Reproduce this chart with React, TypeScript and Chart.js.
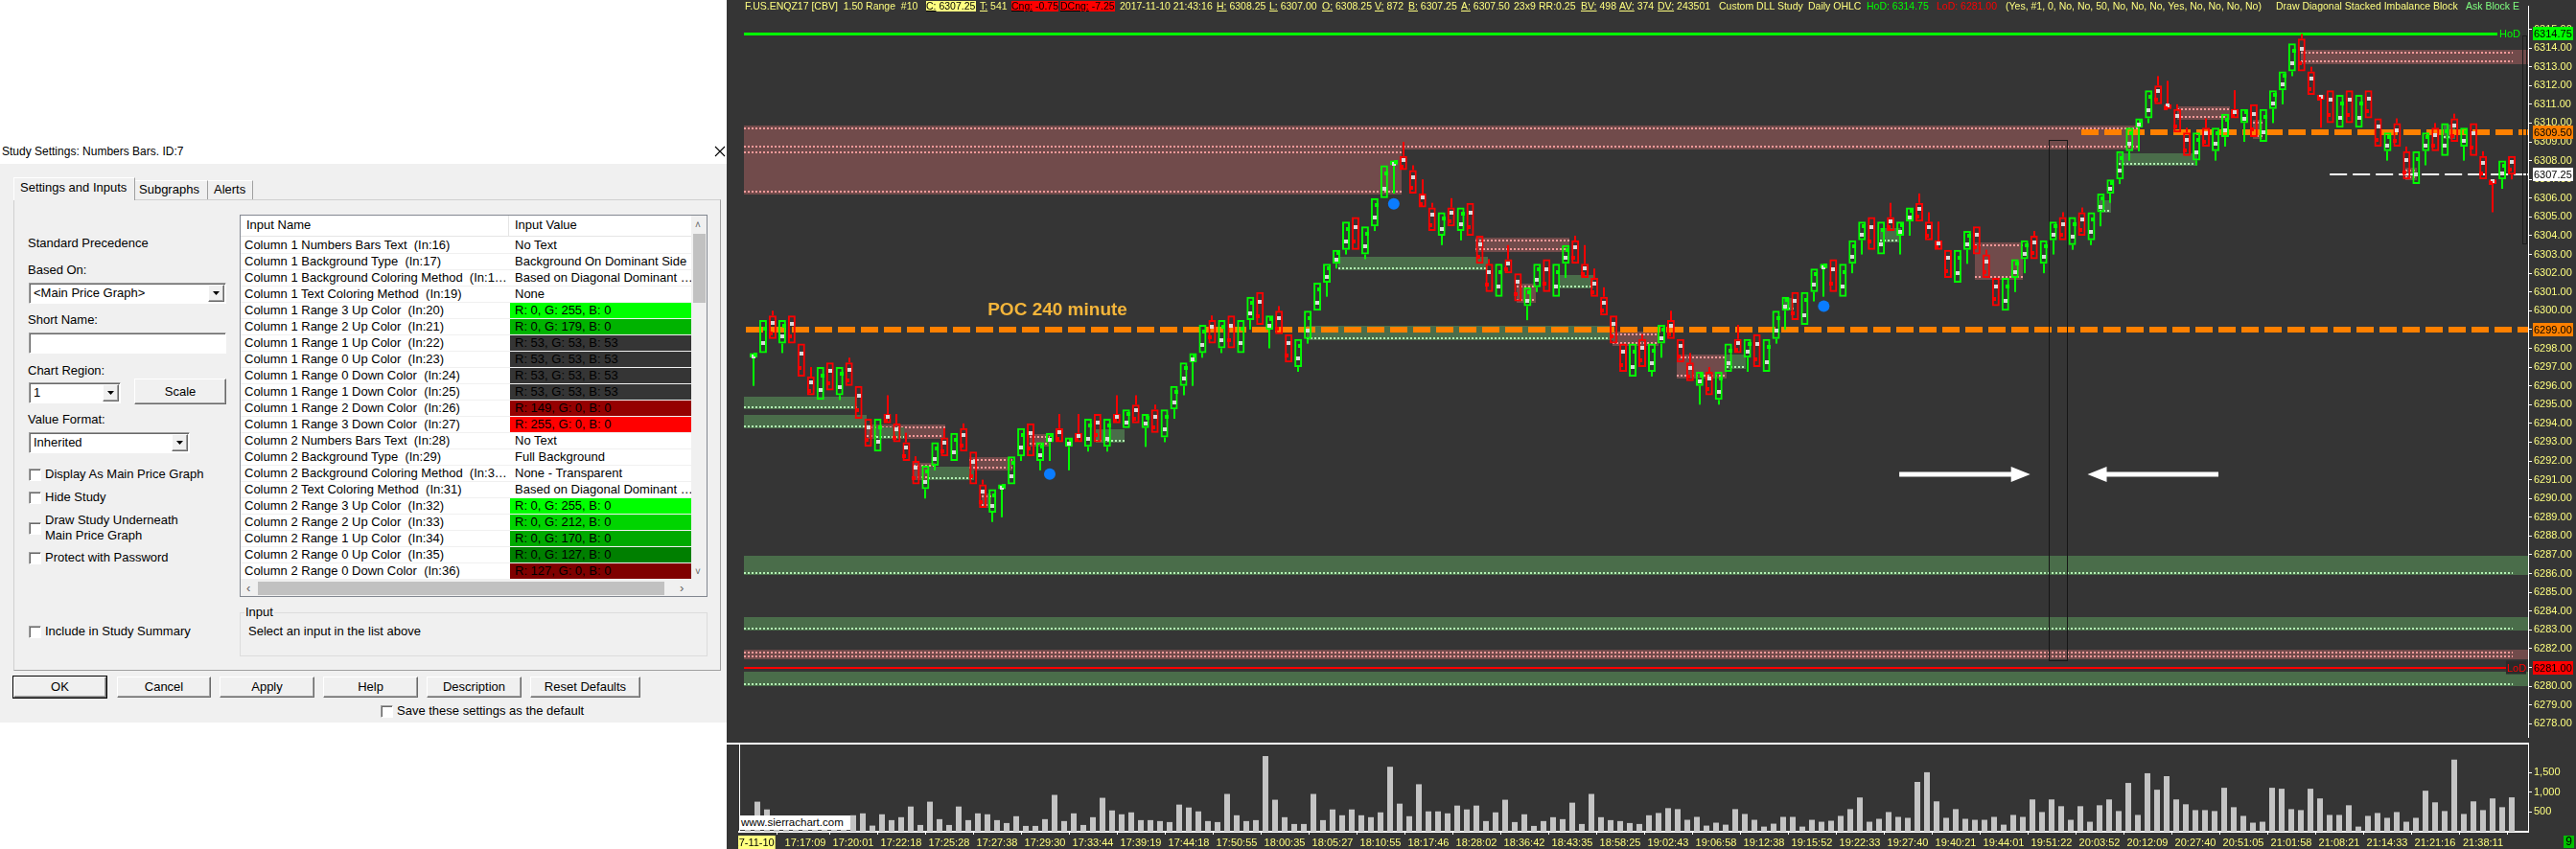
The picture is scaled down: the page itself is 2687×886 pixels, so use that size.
import { Fragment, useEffect, useRef } from "react";
import type { CSSProperties, ReactNode } from "react";
import { Chart, registerables } from "chart.js";

Chart.register(...registerables);

const UI_FONT = "'Liberation Sans', Arial, sans-serif";
const AXIS_SIZE = 11;
const YELLOW = "#ffff80";
const UP = "#00ff00";
const DOWN = "#ff0000";
const ORANGE = "#ff8000";
const CHART_BG = "#353535";

// 1.50 range bars, 2017-11-10
const opens = [
  6297.5, 6297.75, 6299.75, 6298.25, 6299.75, 6298.25, 6296.5, 6295.25, 6297.25, 6295.5,
  6297.25, 6296.0, 6294.25, 6292.5, 6294.5, 6294.0, 6293.0, 6292.0, 6290.5, 6291.75,
  6293.25, 6292.0, 6293.75, 6292.5, 6290.75, 6289.25, 6290.5, 6290.75, 6292.25, 6294.0,
  6292.0, 6293.0, 6293.75, 6292.75, 6293.5, 6292.75, 6294.5, 6292.75, 6294.5, 6293.75,
  6295.0, 6293.75, 6294.75, 6293.25, 6294.75, 6296.0, 6297.25, 6297.75, 6299.5, 6298.0,
  6299.75, 6297.75, 6299.5, 6301.0, 6299.0, 6300.0, 6298.75, 6297.0, 6298.5, 6300.0,
  6301.5, 6302.5, 6303.25, 6305.0, 6303.0, 6304.5, 6306.0, 6307.75, 6308.25, 6307.5,
  6306.25, 6305.5, 6304.0, 6305.5, 6304.25, 6305.75, 6304.0, 6302.5, 6300.75, 6302.75,
  6302.0, 6300.25, 6301.25, 6302.75, 6300.75, 6302.5, 6303.75, 6302.5, 6301.75, 6300.75,
  6299.75, 6298.25, 6296.5, 6298.5, 6296.75, 6298.25, 6299.5, 6298.5, 6297.25, 6296.0,
  6296.75, 6295.25, 6296.75, 6298.5, 6297.5, 6298.75, 6296.75, 6298.5, 6300.0, 6301.0,
  6299.25, 6301.0, 6302.25, 6302.75, 6300.75, 6302.5, 6303.75, 6305.0, 6303.0, 6305.0,
  6304.0, 6304.75, 6305.75, 6304.75, 6303.75, 6303.25, 6301.5, 6303.25, 6304.5, 6303.0,
  6301.75, 6300.0, 6301.75, 6302.75, 6304.0, 6302.5, 6303.75, 6305.0, 6303.5, 6305.25,
  6303.75, 6305.25, 6306.25, 6307.0, 6308.5, 6309.75, 6310.25, 6312.0, 6311.0, 6310.75,
  6309.5, 6308.0, 6309.75, 6308.5, 6309.25, 6310.75, 6310.0, 6311.0, 6309.0, 6310.75,
  6311.75, 6312.75, 6314.5, 6312.75, 6311.5, 6311.75, 6309.75, 6311.75, 6309.75, 6311.75,
  6310.25, 6308.5, 6310.0, 6308.5, 6306.75, 6308.5, 6309.75, 6308.25, 6310.25, 6308.75,
  6310.0, 6308.25, 6307.0, 6307.0, 6308.25,
];
const highs = [
  6297.75, 6299.5, 6300.0, 6299.5, 6299.75, 6298.25, 6297.0, 6297.0, 6297.25, 6297.0,
  6297.5, 6296.0, 6294.25, 6294.25, 6295.5, 6294.5, 6293.5, 6292.25, 6291.75, 6293.0,
  6293.75, 6293.5, 6294.0, 6292.5, 6291.0, 6290.5, 6290.75, 6292.25, 6293.75, 6294.0,
  6293.0, 6293.5, 6294.5, 6293.25, 6294.5, 6294.25, 6294.5, 6294.25, 6295.5, 6294.75,
  6295.5, 6294.5, 6295.0, 6294.75, 6296.0, 6297.25, 6297.75, 6299.25, 6299.75, 6299.5,
  6299.75, 6299.5, 6300.75, 6301.0, 6299.75, 6300.25, 6298.75, 6298.5, 6300.0, 6301.5,
  6302.5, 6303.25, 6304.75, 6305.0, 6304.5, 6306.0, 6307.75, 6308.0, 6309.0, 6307.75,
  6307.0, 6305.75, 6305.25, 6306.0, 6305.5, 6305.75, 6304.0, 6302.75, 6302.5, 6303.5,
  6302.0, 6301.25, 6302.5, 6302.75, 6302.5, 6303.5, 6304.0, 6303.5, 6302.25, 6301.25,
  6299.75, 6298.25, 6298.25, 6298.75, 6298.25, 6299.25, 6300.0, 6298.5, 6297.75, 6296.75,
  6297.0, 6296.75, 6298.25, 6299.25, 6298.5, 6298.75, 6298.5, 6300.0, 6300.75, 6301.0,
  6301.0, 6302.25, 6302.5, 6302.75, 6302.5, 6303.75, 6304.75, 6305.0, 6304.75, 6305.75,
  6304.75, 6305.5, 6306.25, 6305.25, 6304.75, 6303.25, 6303.25, 6304.25, 6304.5, 6303.25,
  6301.75, 6301.75, 6302.75, 6303.75, 6304.25, 6303.75, 6304.75, 6305.25, 6305.0, 6305.5,
  6305.25, 6306.25, 6307.0, 6308.5, 6309.75, 6310.25, 6311.75, 6312.5, 6312.25, 6311.0,
  6309.75, 6309.5, 6310.25, 6309.75, 6310.5, 6311.75, 6310.75, 6311.0, 6310.75, 6311.75,
  6312.75, 6314.25, 6314.75, 6313.0, 6311.5, 6311.75, 6311.5, 6311.75, 6311.5, 6311.75,
  6310.25, 6309.5, 6310.25, 6308.75, 6308.5, 6309.5, 6310.0, 6310.0, 6310.5, 6309.75,
  6310.0, 6308.5, 6307.0, 6308.0, 6308.25,
];
const lows = [
  6296.0, 6297.75, 6298.5, 6297.75, 6298.25, 6296.5, 6295.5, 6295.25, 6295.75, 6295.25,
  6296.0, 6294.25, 6292.75, 6292.5, 6294.0, 6293.0, 6292.0, 6290.75, 6290.0, 6291.5,
  6292.25, 6292.0, 6292.5, 6290.75, 6289.5, 6288.75, 6289.0, 6290.75, 6292.0, 6292.25,
  6291.5, 6292.0, 6293.0, 6291.5, 6293.0, 6292.5, 6293.0, 6292.5, 6294.0, 6293.75,
  6294.0, 6292.75, 6293.5, 6293.0, 6294.25, 6295.5, 6296.0, 6297.5, 6298.25, 6297.75,
  6298.0, 6297.75, 6299.0, 6299.25, 6298.0, 6298.75, 6297.25, 6296.75, 6298.25, 6300.0,
  6300.75, 6302.25, 6303.0, 6303.25, 6302.75, 6304.25, 6306.0, 6306.25, 6307.5, 6306.25,
  6305.5, 6304.25, 6303.5, 6304.5, 6303.75, 6304.0, 6302.5, 6301.0, 6300.75, 6302.0,
  6300.5, 6299.5, 6301.0, 6301.0, 6300.75, 6301.75, 6302.5, 6301.75, 6300.75, 6299.75,
  6298.25, 6296.75, 6296.5, 6297.0, 6296.5, 6297.5, 6298.5, 6297.25, 6296.25, 6295.0,
  6295.5, 6295.0, 6296.75, 6297.75, 6296.75, 6297.0, 6296.75, 6298.25, 6299.0, 6299.5,
  6299.25, 6300.5, 6300.75, 6301.0, 6300.75, 6302.0, 6303.0, 6303.25, 6303.0, 6304.25,
  6303.0, 6304.0, 6304.75, 6303.75, 6303.25, 6301.75, 6301.5, 6302.5, 6303.0, 6301.75,
  6300.25, 6300.0, 6301.0, 6302.0, 6302.75, 6302.0, 6303.0, 6303.75, 6303.25, 6304.0,
  6303.5, 6304.5, 6305.75, 6306.75, 6308.0, 6308.5, 6310.0, 6311.0, 6310.75, 6309.5,
  6308.25, 6307.75, 6308.75, 6308.0, 6308.75, 6310.25, 6309.0, 6309.25, 6309.0, 6310.0,
  6311.0, 6312.5, 6312.75, 6311.5, 6309.75, 6310.0, 6309.75, 6310.0, 6309.75, 6310.25,
  6308.75, 6308.0, 6308.75, 6307.0, 6306.75, 6307.75, 6308.5, 6308.25, 6309.0, 6308.0,
  6308.25, 6307.0, 6305.25, 6306.5, 6307.0,
];
const closes = [
  6297.75, 6299.5, 6298.5, 6299.5, 6298.25, 6296.5, 6295.5, 6297.0, 6295.75, 6297.0,
  6296.0, 6294.25, 6292.75, 6294.25, 6294.0, 6293.0, 6292.0, 6290.75, 6291.75, 6293.0,
  6292.25, 6293.5, 6292.5, 6290.75, 6289.5, 6290.5, 6290.75, 6292.25, 6293.75, 6292.25,
  6293.0, 6293.5, 6293.0, 6293.25, 6293.0, 6294.25, 6293.0, 6294.25, 6294.0, 6294.75,
  6294.0, 6294.5, 6293.5, 6294.75, 6296.0, 6297.25, 6297.75, 6299.25, 6298.25, 6299.5,
  6298.0, 6299.5, 6300.75, 6299.25, 6299.75, 6298.75, 6297.25, 6298.5, 6300.0, 6301.5,
  6302.5, 6303.25, 6304.75, 6303.25, 6304.5, 6306.0, 6307.75, 6308.0, 6307.5, 6306.25,
  6305.5, 6304.25, 6305.25, 6304.5, 6305.5, 6304.0, 6302.5, 6301.0, 6302.5, 6302.0,
  6300.5, 6301.25, 6302.5, 6301.0, 6302.5, 6303.5, 6302.5, 6301.75, 6300.75, 6299.75,
  6298.25, 6296.75, 6298.25, 6297.0, 6298.25, 6299.25, 6298.5, 6297.25, 6296.25, 6296.75,
  6295.5, 6296.75, 6298.25, 6297.75, 6298.5, 6297.0, 6298.5, 6300.0, 6300.75, 6299.5,
  6301.0, 6302.25, 6302.5, 6301.0, 6302.5, 6303.75, 6304.75, 6303.25, 6304.75, 6304.25,
  6304.75, 6305.5, 6304.75, 6303.75, 6303.25, 6301.75, 6303.25, 6304.25, 6303.0, 6301.75,
  6300.25, 6301.75, 6302.75, 6303.75, 6302.75, 6303.75, 6304.75, 6303.75, 6305.0, 6304.0,
  6305.25, 6306.25, 6307.0, 6308.5, 6309.75, 6310.25, 6311.75, 6311.0, 6310.75, 6309.5,
  6308.25, 6309.5, 6308.75, 6309.75, 6310.5, 6310.25, 6310.75, 6309.25, 6310.75, 6311.75,
  6312.75, 6314.25, 6312.75, 6311.5, 6311.25, 6310.0, 6311.5, 6310.0, 6311.5, 6310.25,
  6308.75, 6309.5, 6308.75, 6307.0, 6308.5, 6309.5, 6308.5, 6310.0, 6309.0, 6309.75,
  6308.25, 6307.0, 6306.75, 6308.0, 6307.25,
];
const volumes = [
  300, 763, 566, 250, 180, 320, 210, 290, 150, 340,
  230, 418, 467, 156, 443, 295, 369, 640, 172, 763,
  320, 172, 640, 295, 467, 443, 295, 221, 394, 148,
  148, 320, 935, 271, 467, 172, 369, 861, 541, 443,
  492, 295, 295, 271, 246, 689, 615, 517, 271, 246,
  959, 418, 271, 295, 1919, 812, 369, 197, 197, 959,
  295, 566, 418, 566, 418, 369, 492, 1648, 713, 394,
  1205, 517, 517, 467, 664, 566, 664, 271, 492, 812,
  246, 443, 148, 271, 369, 320, 738, 197, 959, 369,
  295, 271, 221, 197, 418, 476, 599, 574, 303, 377,
  156, 230, 180, 574, 451, 303, 131, 205, 377, 377,
  131, 303, 254, 279, 402, 574, 869, 254, 328, 500,
  377, 353, 1263, 1509, 771, 353, 574, 328, 303, 303,
  377, 180, 426, 377, 820, 500, 820, 648, 303, 648,
  254, 672, 820, 525, 1238, 426, 1484, 1066, 1410, 820,
  697, 549, 549, 525, 1115, 623, 402, 230, 254, 1115,
  1091, 574, 549, 1091, 845, 426, 426, 672, 131, 402,
  476, 353, 500, 254, 353, 1041, 746, 525, 1829, 451,
  771, 549, 845, 623, 872,
];

const timeLabels = [
  "2017-11-10", "17:17:09", "17:20:01", "17:22:18", "17:25:28", "17:27:38", "17:29:30", "17:33:44",
  "17:39:19", "17:44:18", "17:50:55", "18:00:35", "18:05:27", "18:10:55", "18:17:46", "18:28:02",
  "18:36:42", "18:43:35", "18:58:25", "19:02:43", "19:06:58", "19:12:38", "19:15:52", "19:22:33",
  "19:27:40", "19:40:21", "19:44:01", "19:51:22", "20:03:52", "20:12:09", "20:27:40", "20:51:05",
  "21:01:58", "21:08:21", "21:14:33", "21:21:16", "21:38:11",
];
const labelBars = [
  0, 6, 11, 16, 21, 26, 31, 36, 41, 46, 51, 56, 61, 66, 71, 76, 81, 86, 91,
  96, 101, 106, 111, 116, 121, 126, 131, 136, 141, 146, 151, 156, 161, 166, 171, 176, 181,
];
const priceTickRange = [6278, 6315];
const volumeTicks = [500, 1000, 1500];

// stacked imbalance zones: [from bar, to bar, low, high, side]
const zones: [number, number, number, number, string][] = [
  [-1, 144.85, 6308.6, 6309.85, "sell"],
  [-1, 67.85, 6306.2, 6308.6, "sell"],
  [-1, 10.85, 6294.75, 6295.4, "buy"],
  [-1, 11.85, 6293.75, 6294.45, "buy"],
  [11.85, 20.05, 6293.2, 6293.95, "sell"],
  [12.85, 15.75, 6293.2, 6293.8, "buy"],
  [16.75, 19.05, 6291.0, 6291.9, "sell"],
  [18.25, 23.05, 6291.0, 6291.7, "buy"],
  [22.55, 27.05, 6291.5, 6292.2, "sell"],
  [23.85, 24.85, 6289.5, 6290.25, "sell"],
  [28.85, 31.05, 6292.75, 6293.45, "sell"],
  [35.85, 38.85, 6292.95, 6293.7, "buy"],
  [57.85, 90.05, 6298.45, 6299.2, "buy"],
  [61.25, 76.85, 6302.15, 6302.9, "buy"],
  [75.55, 85.35, 6303.15, 6303.9, "sell"],
  [79.85, 81.85, 6300.45, 6301.45, "sell"],
  [84.25, 87.85, 6301.2, 6301.9, "buy"],
  [89.85, 94.75, 6298.15, 6298.9, "sell"],
  [96.6, 101.85, 6296.4, 6297.65, "sell"],
  [101.85, 103.85, 6296.9, 6297.65, "buy"],
  [107.85, 108.85, 6300.0, 6300.7, "buy"],
  [117.85, 120.05, 6303.65, 6304.4, "buy"],
  [127.85, 132.85, 6301.65, 6303.65, "sell"],
  [140.85, 142.05, 6305.2, 6305.9, "buy"],
  [142.85, 151.05, 6307.7, 6308.4, "buy"],
  [148.95, 154.45, 6310.15, 6310.9, "sell"],
  [156.95, 157.95, 6309.15, 6310.15, "sell"],
  [161.95, 187, 6313.15, 6313.9, "sell"],
  [172.85, 174.05, 6306.95, 6307.6, "sell"],
  [176.85, 178.05, 6309.15, 6309.9, "buy"],
  [-1, 187, 6285.95, 6286.95, "buy"],
  [-1, 187, 6282.95, 6283.7, "buy"],
  [-1, 187, 6281.45, 6281.95, "sell"],
  [-1, 187, 6280.0, 6280.75, "buy"],
];

const poc240 = 6299.0;
const pocDaily = 6309.5;
const pocDailyFrom = 138.95;
const lastPrice = 6307.25;
const lastPriceFrom = 164.95;
const highOfDay = 6314.75;
const lowOfDay = 6281.0;
const signalDots = [
  { x: 31, y: 6291.3 },
  { x: 67, y: 6305.7 },
  { x: 112, y: 6300.25 },
];
const arrows: [number, number, number][] = [
  [119.9, 133.6, 6291.3],
  [153.3, 139.6, 6291.3],
];
const markedRange = [135.5, 137.4, 6281.4, 6309.1];
const pocLabelAt = [24.5, 6300.05];

const inputNames = [
  "Column 1 Numbers Bars Text  (In:16)",
  "Column 1 Background Type  (In:17)",
  "Column 1 Background Coloring Method  (In:1\u2026",
  "Column 1 Text Coloring Method  (In:19)",
  "Column 1 Range 3 Up Color  (In:20)",
  "Column 1 Range 2 Up Color  (In:21)",
  "Column 1 Range 1 Up Color  (In:22)",
  "Column 1 Range 0 Up Color  (In:23)",
  "Column 1 Range 0 Down Color  (In:24)",
  "Column 1 Range 1 Down Color  (In:25)",
  "Column 1 Range 2 Down Color  (In:26)",
  "Column 1 Range 3 Down Color  (In:27)",
  "Column 2 Numbers Bars Text  (In:28)",
  "Column 2 Background Type  (In:29)",
  "Column 2 Background Coloring Method  (In:3\u2026",
  "Column 2 Text Coloring Method  (In:31)",
  "Column 2 Range 3 Up Color  (In:32)",
  "Column 2 Range 2 Up Color  (In:33)",
  "Column 2 Range 1 Up Color  (In:34)",
  "Column 2 Range 0 Up Color  (In:35)",
  "Column 2 Range 0 Down Color  (In:36)",
];
const inputValues = [
  "No Text", "Background On Dominant Side", "Based on Diagonal Dominant \u2026", "None",
  "R: 0, G: 255, B: 0", "R: 0, G: 179, B: 0", "R: 53, G: 53, B: 53", "R: 53, G: 53, B: 53",
  "R: 53, G: 53, B: 53", "R: 53, G: 53, B: 53", "R: 149, G: 0, B: 0", "R: 255, G: 0, B: 0",
  "No Text", "Full Background", "None - Transparent", "Based on Diagonal Dominant \u2026",
  "R: 0, G: 255, B: 0", "R: 0, G: 212, B: 0", "R: 0, G: 170, B: 0", "R: 0, G: 127, B: 0",
  "R: 127, G: 0, B: 0",
];

const footprint = {
  id: "footprint",
  beforeDatasetsDraw(chart: any) {
    const { ctx, chartArea: a } = chart;
    const x = chart.scales.x;
    const y = chart.scales.y;
    const lastX = x.getPixelForValue(opens.length - 1) + 1;
    ctx.save();
    ctx.beginPath();
    ctx.rect(a.left, a.top, a.right - a.left, a.bottom - a.top);
    ctx.clip();

    for (const [from, to, lo, hi, side] of zones) {
      const x0 = Math.max(a.left, Math.round(x.getPixelForValue(from)));
      const x1 = Math.min(a.right, Math.round(x.getPixelForValue(to)));
      const y0 = Math.round(y.getPixelForValue(hi));
      const y1 = Math.round(y.getPixelForValue(lo));
      const buy = side === "buy";
      ctx.fillStyle = buy ? "#4a6d4a" : "#714b4b";
      ctx.fillRect(x0, y0, x1 - x0, y1 - y0);
      ctx.strokeStyle = buy ? "#b4f0b4" : "#f59a9a";
      ctx.lineWidth = 2;
      ctx.setLineDash([2, 2]);
      const xe = Math.min(x1, lastX);
      const rows = buy ? [y1 - 2] : [y0 + 3, y1 - 3];
      for (const ry of rows) {
        ctx.beginPath();
        ctx.moveTo(x0, ry);
        ctx.lineTo(xe, ry);
        ctx.stroke();
      }
    }

    const dashed = (from: number, level: number, color: string, width: number) => {
      const yy = Math.round(y.getPixelForValue(level));
      ctx.strokeStyle = color;
      ctx.lineWidth = width;
      ctx.setLineDash([18, 6]);
      ctx.beginPath();
      ctx.moveTo(Math.max(a.left + 2, x.getPixelForValue(from)), yy);
      ctx.lineTo(a.right, yy);
      ctx.stroke();
    };
    dashed(-1, poc240, ORANGE, 6);
    dashed(pocDailyFrom, pocDaily, ORANGE, 6);
    dashed(lastPriceFrom, lastPrice, "#ffffff", 2);
    ctx.setLineDash([]);

    const yH = Math.round(y.getPixelForValue(highOfDay));
    ctx.fillStyle = UP;
    ctx.fillRect(a.left, yH - 1, a.right - a.left - 32, 3);
    const yL = Math.round(y.getPixelForValue(lowOfDay));
    ctx.fillStyle = DOWN;
    ctx.fillRect(a.left, yL - 1, a.right - a.left - 23, 2);

    const [r0, r1, rLo, rHi] = markedRange;
    ctx.strokeStyle = "#161616";
    ctx.lineWidth = 1;
    const rx0 = Math.round(x.getPixelForValue(r0)) + 0.5;
    const rx1 = Math.round(x.getPixelForValue(r1)) + 0.5;
    const ry0 = Math.round(y.getPixelForValue(rHi)) + 0.5;
    const ry1 = Math.round(y.getPixelForValue(rLo)) + 0.5;
    ctx.strokeRect(rx0, ry0, rx1 - rx0, ry1 - ry0);

    opens.forEach((o, i) => {
      const c = closes[i];
      const xc = Math.round(x.getPixelForValue(i));
      const top = y.getPixelForValue(Math.max(o, c));
      const bot = y.getPixelForValue(Math.min(o, c));
      const yh = y.getPixelForValue(highs[i]);
      const yl = y.getPixelForValue(lows[i]);
      ctx.fillStyle = c >= o ? UP : DOWN;
      if (yh < top) ctx.fillRect(xc - 1, yh, 2, top - yh);
      if (yl > bot) ctx.fillRect(xc - 1, bot, 2, yl - bot);
    });
    ctx.restore();
  },
  afterDatasetsDraw(chart: any) {
    const { ctx, chartArea: a } = chart;
    const x = chart.scales.x;
    const y = chart.scales.y;
    ctx.save();
    opens.forEach((o, i) => {
      const c = closes[i];
      const up = c >= o;
      const xc = Math.round(x.getPixelForValue(i));
      const yp = Math.round(y.getPixelForValue(o + (c - o) * 0.3));
      ctx.fillStyle = "#d9d9d9";
      ctx.fillRect(xc - 2, yp - 2, 4, 4);
      const yi = Math.round(y.getPixelForValue(o + (c - o) * 0.75));
      ctx.fillStyle = up ? UP : DOWN;
      ctx.fillRect(up ? xc : xc - 4, yi - 2, 4, 4);
    });

    ctx.fillStyle = "#ffffff";
    ctx.strokeStyle = "#ffffff";
    for (const [from, to, level] of arrows) {
      const x0 = x.getPixelForValue(from);
      const x1 = x.getPixelForValue(to);
      const yy = Math.round(y.getPixelForValue(level));
      const dir = Math.sign(x1 - x0);
      ctx.lineWidth = 5;
      ctx.beginPath();
      ctx.moveTo(x0, yy);
      ctx.lineTo(x1 - dir * 14, yy);
      ctx.stroke();
      ctx.beginPath();
      ctx.moveTo(x1, yy);
      ctx.lineTo(x1 - dir * 20, yy - 8);
      ctx.lineTo(x1 - dir * 20, yy + 8);
      ctx.closePath();
      ctx.fill();
    }

    ctx.font = "bold 19px 'Liberation Sans', Arial, sans-serif";
    ctx.fillStyle = "#f4b53a";
    ctx.textBaseline = "middle";
    ctx.textAlign = "left";
    ctx.fillText("POC 240 minute", x.getPixelForValue(pocLabelAt[0]), y.getPixelForValue(pocLabelAt[1]));

    ctx.font = `${AXIS_SIZE}px ${UI_FONT}`;
    ctx.fillStyle = UP;
    ctx.fillText("HoD", a.right - 30, y.getPixelForValue(highOfDay) + 1);
    const yL = y.getPixelForValue(lowOfDay);
    ctx.fillStyle = "#2a2a2a";
    ctx.fillRect(a.right - 23, yL - 7, 21, 14);
    ctx.fillStyle = DOWN;
    ctx.fillText("LoD", a.right - 22, yL + 1);
    ctx.restore();
  },
  afterDraw(chart: any) {
    const { ctx, chartArea: a } = chart;
    const y = chart.scales.y;
    const marks: [number, string][] = [
      [highOfDay, UP],
      [pocDaily, ORANGE],
      [lastPrice, "#ffffff"],
      [poc240, ORANGE],
      [lowOfDay, DOWN],
    ];
    ctx.save();
    ctx.font = `${AXIS_SIZE}px ${UI_FONT}`;
    ctx.textBaseline = "middle";
    ctx.textAlign = "left";
    for (const [level, bg] of marks) {
      const yy = Math.round(y.getPixelForValue(level));
      ctx.fillStyle = bg;
      ctx.fillRect(a.right + 5, yy - 7, 42, 14);
      ctx.fillStyle = "#000000";
      ctx.fillText(level.toFixed(2), a.right + 6, yy + 1);
    }
    ctx.restore();
  },
};

function Txt({ x, y, children, style }: { x: number; y: number; children: ReactNode; style?: CSSProperties }) {
  return (
    <div style={{ position: "absolute", left: x, top: y - 8, height: 16, lineHeight: "16px", whiteSpace: "pre", ...style }}>
      {children}
    </div>
  );
}

const raised: CSSProperties = {
  position: "absolute",
  boxSizing: "border-box",
  background: "#f0f0f0",
  borderTop: "1px solid #ffffff",
  borderLeft: "1px solid #ffffff",
  borderRight: "1px solid #696969",
  borderBottom: "1px solid #696969",
  boxShadow: "inset -1px -1px 0 #a0a0a0",
};
const sunken: CSSProperties = {
  position: "absolute",
  boxSizing: "border-box",
  background: "#ffffff",
  borderTop: "1px solid #a0a0a0",
  borderLeft: "1px solid #a0a0a0",
  borderRight: "1px solid #ffffff",
  borderBottom: "1px solid #ffffff",
  boxShadow: "inset 1px 1px 0 #696969",
};

function Combo({ x, y, w, text }: { x: number; y: number; w: number; text: string }) {
  return (
    <div style={{ ...sunken, left: x, top: y, width: w, height: 22 }}>
      <div style={{ position: "absolute", left: 4, top: 2, lineHeight: "16px", whiteSpace: "pre" }}>{text}</div>
      <div style={{ ...raised, right: 1, top: 1, width: 17, height: 18 }}>
        <svg width={15} height={16} style={{ position: "absolute", left: 0, top: 0 }}>
          <path d="M4 6 L11 6 L7.5 10 Z" fill="#000" />
        </svg>
      </div>
    </div>
  );
}

function Check({ x, y }: { x: number; y: number }) {
  return <div style={{ ...sunken, left: x, top: y - 6, width: 13, height: 13 }} />;
}

function Button({ x, y, w, h, label, main }: { x: number; y: number; w: number; h: number; label: string; main?: boolean }) {
  return (
    <div
      style={{
        ...raised,
        left: x,
        top: y,
        width: w,
        height: h,
        textAlign: "center",
        lineHeight: `${h - 2}px`,
        outline: main ? "1px solid #000" : undefined,
      }}
    >
      {label}
    </div>
  );
}

function Dialog() {
  return (
    <div style={{ position: "absolute", left: 0, top: 0, width: 758, height: 886, fontFamily: UI_FONT, fontSize: 13, color: "#000" }}>
      <div style={{ position: "absolute", left: 0, top: 171, width: 758, height: 583, background: "#f0f0f0" }} />
      <Txt x={2} y={158} style={{ fontSize: 12 }}>Study Settings: Numbers Bars. ID:7</Txt>
      <svg width={12} height={12} style={{ position: "absolute", left: 745, top: 152 }}>
        <path d="M1 1 L11 11 M11 1 L1 11" stroke="#000" strokeWidth={1.1} />
      </svg>

      <div style={{ position: "absolute", left: 14, top: 208, width: 738, height: 492, boxSizing: "border-box", border: "1px solid #d0d0d0", borderRightColor: "#a0a0a0", borderBottomColor: "#a0a0a0", background: "#f0f0f0" }} />
      <div style={{ position: "absolute", left: 14, top: 185, width: 127, height: 24, boxSizing: "border-box", borderTop: "1px solid #fff", borderLeft: "1px solid #fff", borderRight: "1px solid #a0a0a0", background: "#f0f0f0" }} />
      <Txt x={21} y={196}>Settings and Inputs</Txt>
      <div style={{ position: "absolute", left: 141, top: 188, width: 76, height: 20, boxSizing: "border-box", borderTop: "1px solid #fff", borderRight: "1px solid #a0a0a0" }} />
      <Txt x={145} y={198}>Subgraphs</Txt>
      <div style={{ position: "absolute", left: 217, top: 188, width: 47, height: 20, boxSizing: "border-box", borderTop: "1px solid #fff", borderRight: "1px solid #a0a0a0" }} />
      <Txt x={223} y={198}>Alerts</Txt>

      <Txt x={29} y={254}>Standard Precedence</Txt>
      <Txt x={29} y={282}>Based On:</Txt>
      <Combo x={30} y={295} w={206} text="<Main Price Graph>" />
      <Txt x={29} y={334}>Short Name:</Txt>
      <div style={{ ...sunken, left: 30, top: 347, width: 206, height: 22 }} />
      <Txt x={29} y={387}>Chart Region:</Txt>
      <Combo x={30} y={399} w={96} text="1" />
      <Button x={140} y={395} w={96} h={27} label="Scale" />
      <Txt x={29} y={438}>Value Format:</Txt>
      <Combo x={30} y={451} w={168} text="Inherited" />

      <Check x={30} y={495} />
      <Txt x={47} y={495}>Display As Main Price Graph</Txt>
      <Check x={30} y={519} />
      <Txt x={47} y={519}>Hide Study</Txt>
      <Check x={30} y={551} />
      <Txt x={47} y={543}>Draw Study Underneath</Txt>
      <Txt x={47} y={559}>Main Price Graph</Txt>
      <Check x={30} y={582} />
      <Txt x={47} y={582}>Protect with Password</Txt>
      <Check x={30} y={659} />
      <Txt x={47} y={659}>Include in Study Summary</Txt>

      <div style={{ position: "absolute", left: 250, top: 224, width: 488, height: 399, boxSizing: "border-box", border: "1px solid #828790", background: "#fff", overflow: "hidden" }}>
        <div style={{ position: "absolute", left: 0, top: 0, width: 470, height: 21, borderBottom: "1px solid #e5e5e5" }} />
        <div style={{ position: "absolute", left: 279, top: 0, width: 1, height: 21, background: "#e5e5e5" }} />
        <Txt x={6} y={10}>Input Name</Txt>
        <Txt x={286} y={10}>Input Value</Txt>
        {inputNames.map((name, i) => {
          const top = 23 + i * 17;
          const rgb = /R: (\d+), G: (\d+), B: (\d+)/.exec(inputValues[i]);
          return (
            <Fragment key={name}>
              <div style={{ position: "absolute", left: 0, top: top + 16, width: 470, height: 1, background: "#f0f0f0" }} />
              <div style={{ position: "absolute", left: 4, top, width: 273, height: 16, lineHeight: "16px", overflow: "hidden", whiteSpace: "pre" }}>{name}</div>
              <div
                style={{
                  position: "absolute",
                  left: 281,
                  top,
                  width: 189,
                  height: 16,
                  lineHeight: "16px",
                  paddingLeft: 5,
                  boxSizing: "border-box",
                  overflow: "hidden",
                  whiteSpace: "pre",
                  background: rgb ? `rgb(${rgb[1]},${rgb[2]},${rgb[3]})` : "transparent",
                }}
              >
                {inputValues[i]}
              </div>
            </Fragment>
          );
        })}
        <div style={{ position: "absolute", left: 470, top: 0, width: 17, height: 380, background: "#f0f0f0" }} />
        <div style={{ position: "absolute", left: 472, top: 19, width: 13, height: 72, background: "#c1c1c1" }} />
        <Txt x={474} y={10} style={{ fontSize: 10, color: "#606060" }}>{"\u02c4"}</Txt>
        <Txt x={474} y={372} style={{ fontSize: 10, color: "#606060" }}>{"\u02c5"}</Txt>
        <div style={{ position: "absolute", left: 0, top: 380, width: 487, height: 18, background: "#f0f0f0" }} />
        <div style={{ position: "absolute", left: 18, top: 382, width: 424, height: 14, background: "#c1c1c1" }} />
        <Txt x={6} y={389} style={{ color: "#606060" }}>{"\u2039"}</Txt>
        <Txt x={458} y={389} style={{ color: "#606060" }}>{"\u203a"}</Txt>
      </div>

      <div style={{ position: "absolute", left: 250, top: 639, width: 488, height: 46, boxSizing: "border-box", border: "1px solid #dcdcdc" }} />
      <Txt x={255} y={639} style={{ background: "#f0f0f0", padding: "0 1px" }}>Input</Txt>
      <Txt x={259} y={659}>Select an input in the list above</Txt>

      <Button x={14} y={706} w={97} h={22} label="OK" main />
      <Button x={122} y={706} w={98} h={22} label="Cancel" />
      <Button x={229} y={706} w={99} h={22} label="Apply" />
      <Button x={337} y={706} w={99} h={22} label="Help" />
      <Button x={445} y={706} w={99} h={22} label="Description" />
      <Button x={553} y={706} w={115} h={22} label="Reset Defaults" />
      <Check x={397} y={742} />
      <Txt x={414} y={742}>Save these settings as the default</Txt>
    </div>
  );
}

function Header() {
  const base: CSSProperties = {
    position: "absolute",
    top: 1,
    height: 11,
    lineHeight: "11px",
    fontFamily: UI_FONT,
    fontSize: 10.5,
    color: YELLOW,
    whiteSpace: "pre",
  };
  const at = (x: number, content: ReactNode, extra?: CSSProperties) => (
    <div style={{ ...base, left: x, ...extra }}>{content}</div>
  );
  return (
    <>
      {at(777, "F.US.ENQZ17 [CBV]  1.50 Range  #10")}
      {at(966, <><u>C:</u> 6307.25</>, { background: YELLOW, color: "#000", width: 52 })}
      {at(1022, <><u>T:</u> 541</>)}
      {at(1055, <><u>Cng:</u> -0.75</>, { background: DOWN, color: "#000", width: 49 })}
      {at(1106, <><u>DCng:</u> -7.25</>, { background: DOWN, color: "#000", width: 57 })}
      {at(1168, "2017-11-10 21:43:16")}
      {at(1269, <><u>H:</u> 6308.25</>)}
      {at(1324, <><u>L:</u> 6307.00</>)}
      {at(1379, <><u>O:</u> 6308.25</>)}
      {at(1434, <><u>V:</u> 872</>)}
      {at(1469, <><u>B:</u> 6307.25</>)}
      {at(1524, <><u>A:</u> 6307.50</>)}
      {at(1579, "23x9")}
      {at(1605, "RR:0.25")}
      {at(1649, <><u>BV:</u> 498</>)}
      {at(1689, <><u>AV:</u> 374</>)}
      {at(1729, <><u>DV:</u> 243501</>)}
      {at(1793, "Custom DLL Study")}
      {at(1886, "Daily OHLC")}
      {at(1947, "HoD: 6314.75", { color: UP })}
      {at(2020, "LoD: 6281.00", { color: DOWN })}
      {at(2092, "(Yes, #1, 0, No, No, 50, No, No, No, Yes, No, No, No, No)")}
      {at(2374, "Draw Diagonal Stacked Imbalance Block")}
      {at(2572, "Ask Block E", { color: "#80ff80", width: 62, overflow: "hidden" })}
    </>
  );
}

export default function App() {
  const priceRef = useRef<HTMLCanvasElement | null>(null);
  const volumeRef = useRef<HTMLCanvasElement | null>(null);

  useEffect(() => {
    const axisFont = { family: UI_FONT, size: AXIS_SIZE };

    const priceChart = priceRef.current
      ? new Chart(priceRef.current, {
          type: "bar",
          data: {
            datasets: [
              {
                type: "bar",
                label: "Range bars",
                data: opens.map((o, i) => ({ x: i, y: [o, closes[i]] })) as any,
                backgroundColor: "rgba(0,0,0,0)",
                borderColor: opens.map((o, i) => (closes[i] >= o ? UP : DOWN)),
                borderWidth: 2,
                borderSkipped: false,
                barThickness: 8,
                grouped: false,
                inflateAmount: 0,
                order: 2,
              } as any,
              {
                type: "scatter",
                label: "Signals",
                data: signalDots,
                pointRadius: 6,
                pointBackgroundColor: "#0a7cff",
                pointBorderWidth: 0,
                order: 1,
              } as any,
            ],
          },
          options: {
            animation: false,
            responsive: true,
            maintainAspectRatio: false,
            events: [],
            layout: { padding: 0 },
            plugins: { legend: { display: false }, tooltip: { enabled: false } },
            scales: {
              x: { type: "linear", min: -1, max: 185.7, offset: false, display: false },
              y: {
                type: "linear",
                position: "right",
                min: 6277.3,
                max: 6316.25,
                beginAtZero: false,
                afterBuildTicks: (s: any) => {
                  s.ticks = s.ticks.filter(
                    (t: any) => Number.isInteger(t.value) && t.value >= priceTickRange[0] && t.value <= priceTickRange[1]
                  );
                },
                afterFit: (s: any) => {
                  s.width = 50;
                  s.paddingTop = 0;
                  s.paddingBottom = 0;
                },
                ticks: { stepSize: 1, color: YELLOW, padding: 2, font: axisFont, callback: (v: any) => Number(v).toFixed(2) },
                grid: { drawOnChartArea: false, tickLength: 4, color: "#ffffff" },
                border: { color: "#ffffff", width: 1 },
              },
            },
          } as any,
          plugins: [footprint],
        })
      : null;

    const volumeChart = volumeRef.current
      ? new Chart(volumeRef.current, {
          type: "bar",
          data: {
            datasets: [
              {
                label: "Volume",
                data: volumes.map((v, i) => ({ x: i, y: v })) as any,
                backgroundColor: "#c4c4c4",
                barThickness: 6,
                inflateAmount: 0,
                grouped: false,
              } as any,
            ],
          },
          options: {
            animation: false,
            responsive: true,
            maintainAspectRatio: false,
            events: [],
            layout: { padding: 0 },
            plugins: { legend: { display: false }, tooltip: { enabled: false } },
            scales: {
              x: {
                type: "linear",
                min: -1,
                max: 185.7,
                offset: false,
                afterBuildTicks: (s: any) => {
                  s.ticks = labelBars.map((v) => ({ value: v }));
                },
                afterFit: (s: any) => {
                  s.height = 18;
                  s.paddingLeft = 0;
                  s.paddingRight = 0;
                },
                ticks: {
                  autoSkip: false,
                  maxRotation: 0,
                  minRotation: 0,
                  padding: 2,
                  font: axisFont,
                  color: (c: any) => (c.index === 0 ? "#000000" : YELLOW),
                  showLabelBackdrop: (c: any) => c.index === 0,
                  backdropColor: YELLOW,
                  backdropPadding: { top: 1, bottom: 1, left: 1, right: 1 },
                  callback: (_v: any, i: number) => timeLabels[i],
                },
                grid: { drawOnChartArea: false, tickLength: 3, color: "#ffffff" },
                border: { color: "#ffffff", width: 2 },
              },
              y: {
                type: "linear",
                position: "right",
                min: 0,
                max: 2260,
                afterBuildTicks: (s: any) => {
                  s.ticks = volumeTicks.map((v) => ({ value: v }));
                },
                afterFit: (s: any) => {
                  s.width = 50;
                  s.paddingTop = 0;
                  s.paddingBottom = 0;
                },
                ticks: { color: YELLOW, padding: 2, font: axisFont },
                grid: { drawOnChartArea: false, tickLength: 4, color: "#ffffff" },
                border: { color: "#ffffff", width: 1 },
              },
            },
          } as any,
        })
      : null;

    return () => {
      priceChart?.destroy();
      volumeChart?.destroy();
    };
  }, []);

  return (
    <div style={{ position: "fixed", left: 0, top: 0, width: 2687, height: 886, overflow: "hidden", background: "#ffffff" }}>
      <Dialog />
      <div style={{ position: "absolute", left: 758, top: 0, width: 1929, height: 886, background: CHART_BG }} />
      <div style={{ position: "absolute", left: 770, top: 0, width: 1917, height: 775 }}>
        <canvas ref={priceRef} />
      </div>
      <div style={{ position: "absolute", left: 770, top: 775, width: 1917, height: 111 }}>
        <canvas ref={volumeRef} />
      </div>
      <Header />
      <div style={{ position: "absolute", left: 758, top: 775, width: 1879, height: 2, background: "#ffffff" }} />
      <div style={{ position: "absolute", left: 771, top: 775, width: 1, height: 93, background: "#ffffff" }} />
      <div style={{ position: "absolute", left: 2631, top: 37, width: 5, height: 218, boxSizing: "border-box", border: "1px solid #1c1c1c" }} />
      <div style={{ position: "absolute", left: 772, top: 851, width: 114, height: 15, background: "#ffffff", color: "#000", fontFamily: UI_FONT, fontSize: 11.5, lineHeight: "15px", paddingLeft: 1 }}>
        www.sierrachart.com
      </div>
      <div style={{ position: "absolute", left: 2674, top: 872, width: 11, height: 13, background: "#00c000", color: "#000", fontFamily: UI_FONT, fontSize: 12, lineHeight: "13px", textAlign: "center" }}>
        9
      </div>
    </div>
  );
}
